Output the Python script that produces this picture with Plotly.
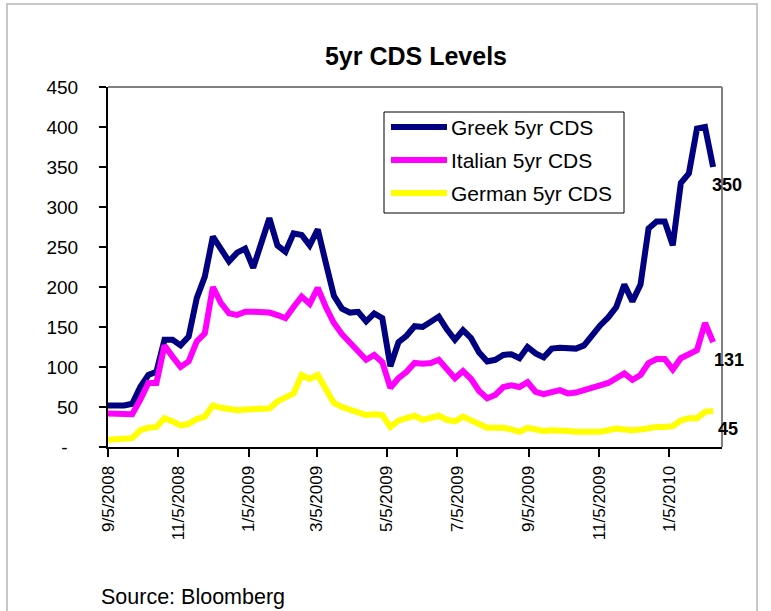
import pandas as pd
import plotly.graph_objects as go

start_date = "2008-09-05"
series_names = ["Greek 5yr CDS", "Italian 5yr CDS", "German 5yr CDS"]

greek = [52, 52, 52, 54, 75, 90, 94, 134, 134, 127,
         138, 186, 213, 263, 248, 232, 243, 248, 224, 258,
         286, 252, 244, 267, 265, 252, 272, 230, 189, 173,
         168, 169, 157, 167, 161, 101, 131, 139, 151, 150,
         157, 163, 147, 134, 146, 136, 118, 107, 109, 115,
         116, 111, 125, 117, 112, 123, 124, 123, 123, 127,
         140, 152, 162, 175, 203, 182, 203, 273, 282, 282,
         252, 330, 342, 398, 400, 350]

italian = [42, 42, 41, 41, 59, 80, 80, 127, 113, 100,
           107, 132, 142, 200, 180, 167, 165, 169, 169, 169,
           168, 165, 161, 175, 188, 179, 199, 175, 155, 141,
           131, 121, 109, 115, 106, 74, 86, 94, 105, 104,
           105, 109, 98, 86, 95, 85, 70, 61, 65, 75,
           77, 75, 81, 69, 66, 69, 71, 67, 68, 71,
           75, 77, 80, 86, 92, 84, 90, 105, 110, 110,
           97, 111, 115, 121, 155, 131]

german = [9, 10, 11, 11, 21, 24, 25, 36, 32, 27,
          29, 35, 38, 52, 49, 48, 46, 47, 47, 47,
          48, 57, 61, 67, 90, 85, 90, 73, 55, 50,
          46, 44, 40, 41, 40, 25, 33, 36, 39, 34,
          37, 39, 34, 32, 38, 34, 29, 24, 24, 24,
          22, 19, 24, 22, 20, 21, 21, 20, 19, 19,
          19, 19, 21, 23, 22, 21, 22, 24, 25, 25,
          26, 33, 36, 36, 44, 45]

x_tick_dates = ["2008-09-05", "2008-11-05", "2009-01-05", "2009-03-05", "2009-05-05",
                "2009-07-05", "2009-09-05", "2009-11-05", "2010-01-05"]
x_tick_labels = ["9/5/2008", "11/5/2008", "1/5/2009", "3/5/2009", "5/5/2009",
                 "7/5/2009", "9/5/2009", "11/5/2009", "1/5/2010"]
y_tick_vals = [0, 50, 100, 150, 200, 250, 300, 350, 400, 450]
y_tick_labels = ["-\u00a0\u00a0", "50", "100", "150", "200", "250", "300", "350", "400", "450"]

colors = ["#000080", "#FF00FF", "#FFFF00"]

dates = pd.date_range(start=start_date, periods=len(greek), freq="7D")

# ---------------- layout geometry (pixels) ----------------
W, H = 771, 611
L, R, T, B = 108, 722, 87, 447
FONT = "Arial, Liberation Sans, sans-serif"


def px(x):
    return (x - L) / (R - L)


def py(y):
    return (B - y) / (B - T)


fig = go.Figure()
for name, vals, col in zip(series_names, [greek, italian, german], colors):
    fig.add_trace(go.Scatter(x=dates, y=vals, mode="lines", name=name,
                             line=dict(color=col, width=6), showlegend=False))

shapes = []
annotations = []

# plot area border (top / right in gray)
shapes.append(dict(type="line", xref="paper", yref="paper", x0=0, x1=1, y0=1, y1=1,
                   line=dict(color="#808080", width=2), layer="below"))
shapes.append(dict(type="line", xref="paper", yref="paper", x0=1, x1=1, y0=0, y1=1,
                   line=dict(color="#808080", width=2), layer="below"))
# outer chart frame
shapes.append(dict(type="rect", xref="paper", yref="paper", x0=px(7), x1=px(757),
                   y0=py(640), y1=py(4), line=dict(color="#c8c8c8", width=2), layer="below"))

# manual legend
shapes.append(dict(type="rect", xref="paper", yref="paper", x0=px(384), x1=px(624),
                   y0=py(213), y1=py(112), line=dict(color="#000000", width=1),
                   fillcolor="white", layer="above"))
row_y = [127, 160, 193]
for name, col, ry in zip(series_names, colors, row_y):
    shapes.append(dict(type="line", xref="paper", yref="paper", x0=px(391), x1=px(447),
                       y0=py(ry), y1=py(ry), line=dict(color=col, width=6), layer="above"))
    annotations.append(dict(xref="paper", yref="paper", x=px(449), y=py(ry), text=name,
                            showarrow=False, xanchor="left", yanchor="middle",
                            font=dict(family=FONT, size=21, color="#000000")))

# end-value labels
end_shift = [-3, -1, 3]
for vals, xs in zip([greek, italian, german], end_shift):
    annotations.append(dict(x=dates[-1], y=vals[-1], text="<b>%d</b>" % vals[-1],
                            showarrow=False, xanchor="left", yanchor="middle",
                            xshift=xs, yshift=-18,
                            font=dict(family=FONT, size=18, color="#000000")))

# source note
annotations.append(dict(xref="paper", yref="paper", x=px(99), y=py(597),
                        text="Source: Bloomberg", showarrow=False,
                        xanchor="left", yanchor="middle",
                        font=dict(family=FONT, size=21.5, color="#000000")))

x_end = pd.Timestamp(start_date) + pd.Timedelta(days=(R - L) / ((669 - 107.7) / 487))

fig.update_layout(
    width=W, height=H,
    margin=dict(l=L, r=W - R, t=T, b=H - B, pad=0),
    paper_bgcolor="white", plot_bgcolor="white",
    title=dict(text="<b>5yr CDS Levels</b>", x=px(416), xref="paper", xanchor="center",
               y=1 - 56 / H, yref="container", yanchor="middle",
               font=dict(family=FONT, size=25, color="#000000")),
    xaxis=dict(type="date", range=[pd.Timestamp(start_date), x_end],
               tickmode="array", tickvals=x_tick_dates, ticktext=x_tick_labels,
               tickangle=-90, ticks="outside", ticklen=8, tickwidth=1.5, tickcolor="#000000",
               showline=True, linecolor="#000000", linewidth=2, showgrid=False,
               zeroline=False, ticklabelstandoff=2,
               tickfont=dict(family=FONT, size=17, color="#000000")),
    yaxis=dict(range=[0, 450], tickmode="array", tickvals=y_tick_vals, ticktext=y_tick_labels,
               ticks="outside", ticklen=7, tickwidth=1.5, tickcolor="#000000",
               showline=True, linecolor="#000000", linewidth=2, showgrid=False,
               zeroline=False, ticklabelstandoff=17,
               tickfont=dict(family=FONT, size=19, color="#000000")),
    shapes=shapes,
    annotations=annotations,
    showlegend=False,
)

fig.write_html("out.html")
